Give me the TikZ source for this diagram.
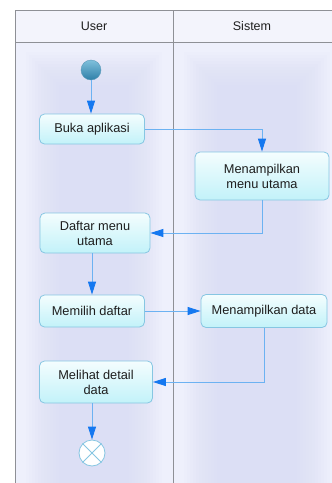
\documentclass[tikz,border=0pt]{standalone}
\usepackage{fontspec}
\setmainfont{Liberation Sans}
\usetikzlibrary{arrows.meta}
\definecolor{laneBg}{HTML}{EEF0FC}
\definecolor{laneGlow}{HTML}{D6DAF5}
\definecolor{headBg}{HTML}{F3F4FC}
\definecolor{frameGray}{HTML}{8E9096}
\definecolor{boxTop}{HTML}{F4FDFE}
\definecolor{boxBottom}{HTML}{C2F2F9}
\definecolor{boxLine}{HTML}{86C6E2}
\definecolor{flowLine}{HTML}{6CB2F2}
\definecolor{flowTip}{HTML}{1578F0}
\definecolor{startTop}{HTML}{7FC0DC}
\definecolor{startBottom}{HTML}{2F7FA8}
\definecolor{labelInk}{HTML}{1E1E1E}
\begin{document}
\begin{tikzpicture}[x=1pt,y=-1pt,
  action/.style={draw=boxLine, line width=0.8pt, rounded corners=5pt,
    top color=boxTop, bottom color=boxBottom, align=center,
    font=\fontsize{12.8}{15}\selectfont, text=labelInk, inner sep=0pt},
  flow/.style={draw=flowLine, line width=0.9pt,
    -{Triangle[length=13pt,width=8pt,fill=flowTip,color=flowTip]}},
  lanetitle/.style={font=\fontsize{12.5}{15}\selectfont, text=labelInk}]
\useasboundingbox (0,0) rectangle (332,483);
\fill[white] (0,0) rectangle (332,483);

% swimlane bodies with a soft inner glow
\fill[laneBg] (15,42) rectangle (332,483);
\foreach \i in {0,...,11} {
  \fill[laneGlow, opacity=0.08] ({26+3*\i},{52+3*\i}) rectangle ({162-3*\i},{490});
  \fill[laneGlow, opacity=0.08] ({184+3*\i},{52+3*\i}) rectangle ({330-3*\i},{490});
}

% header row
\fill[headBg] (15,10) rectangle (332,42);
\node[lanetitle] (userTitle) at (94,26) {User};
\node[lanetitle] (sysTitle) at (252,26) {Sistem};

% frame lines
\draw[frameGray, line width=0.8pt] (332,10) -- (15,10) -- (15,483);
\draw[frameGray, line width=0.8pt] (15,42) -- (332,42);
\draw[frameGray, line width=0.8pt] (173,10) -- (173,483);

% start state
\node[circle, minimum size=20pt, inner sep=0pt, draw=startBottom!80, line width=0.4pt,
  top color=startTop, bottom color=startBottom] (start) at (91,70) {};

% actions
\node[action, minimum width=105pt, minimum height=30pt] (buka) at (92,129) {Buka aplikasi};
\node[action, minimum width=134pt, minimum height=48pt] (menu) at (262,176) {Menampilkan\\menu utama};
\node[action, minimum width=110pt, minimum height=40pt] (daftar) at (95,233) {Daftar menu\\utama};
\node[action, minimum width=105pt, minimum height=32pt] (memilih) at (92,311) {Memilih daftar};
\node[action, minimum width=126pt, minimum height=33pt] (data) at (264,311) {Menampilkan data};
\node[action, minimum width=113pt, minimum height=42pt] (detail) at (96,382) {Melihat detail\\data};

% final state
\node[circle, minimum size=26pt, inner sep=0pt, draw=boxLine, line width=0.8pt,
  fill=white] (finish) at (92,453) {};
\draw[boxLine, line width=0.8pt] (finish.north east) -- (finish.south west)
  (finish.north west) -- (finish.south east);

% control flow
\draw[flow] (start) -- (buka.north -| start);
\draw[flow] (buka.east) -| (menu.north);
\draw[flow] (menu.south) |- (daftar.east);
\draw[flow] (daftar.south -| buka) -- (memilih.north);
\draw[flow] (memilih.east) -- (data.west);
\draw[flow] (data.south) |- (detail.east);
\draw[flow] (detail.south -| finish) -- (finish.north);
\end{tikzpicture}
\end{document}
